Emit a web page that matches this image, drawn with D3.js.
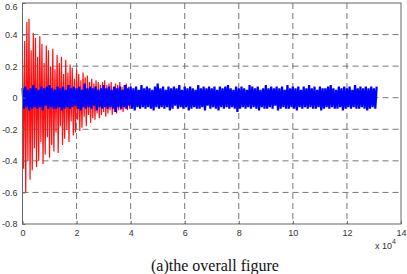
<!DOCTYPE html>
<html><head><meta charset="utf-8">
<script src="https://cdn.jsdelivr.net/npm/d3@7"></script>
<style>body{margin:0;background:#fff}svg{display:block}</style>
</head><body><svg id="c" width="407" height="274"></svg>
<script>
// x ticks (units of 1e4 samples) and y ticks
const xTicks = [0,2,4,6,8,10,12,14];
const yTicks = [-0.8,-0.6,-0.4,-0.2,0,0.2,0.4,0.6];
const xTickLabels = ["0","2","4","6","8","10","12","14"];
const yTickLabels = ["-0.8","-0.6","-0.4","-0.2","0","0.2","0.4","0.6"];
// red signal, sampled every 0.04 (x1e4) from 0
const redStep = 0.04;
const redValues = [0.30,-0.45,0.36,-0.6,0.48,-0.40,0.50,-0.52,0.30,-0.46,
0.41,-0.32,0.38,-0.44,0.26,-0.40,0.39,-0.28,0.34,-0.42,
0.22,-0.36,0.33,-0.25,0.30,-0.38,0.20,-0.30,0.31,-0.34,
0.18,-0.22,0.27,-0.35,0.22,-0.18,0.26,-0.30,0.15,-0.26,
0.24,-0.20,0.16,-0.28,0.21,-0.15,0.19,-0.24,0.12,-0.22,
0.18,-0.14,0.15,-0.21,0.11,-0.19,0.16,-0.12,0.13,-0.18,
0.14,-0.11,0.10,-0.16,0.12,-0.13,0.09,-0.14,0.11,-0.10,
0.10,-0.13,0.08,-0.11,0.10,-0.09,0.11,-0.12,0.08,-0.10,
0.09,-0.08,0.10,-0.11,0.07,-0.09,0.09,-0.10,0.08,-0.08,
0.10,-0.08,0.07,-0.09,0.08,-0.07,0.09,-0.08,0.07,-0.07];
// blue signal, sampled every 0.05 (x1e4) from 0
const blueStep = 0.05;
const blueValues = [0.06,-0.07,0.07,-0.06,0.05,-0.08,0.06,-0.07,0.08,-0.06,
0.06,-0.07,0.05,-0.06,0.07,-0.08,0.06,-0.05,0.07,-0.07,
0.08,-0.06,0.06,-0.07,0.05,-0.07,0.07,-0.06,0.06,-0.08,
0.07,-0.07,0.05,-0.06,0.08,-0.07,0.06,-0.06,0.07,-0.05,
0.06,-0.07,0.07,-0.08,0.05,-0.06,0.09,-0.07,0.06,-0.06,
0.07,-0.07,0.06,-0.05,0.07,-0.08,0.05,-0.06,0.06,-0.07,
0.08,-0.06,0.06,-0.07,0.07,-0.06,0.05,-0.07,0.07,-0.09,
0.06,-0.06,0.07,-0.07,0.05,-0.06,0.08,-0.07,0.06,-0.05,
0.07,-0.07,0.06,-0.08,0.07,-0.06,0.05,-0.07,0.08,-0.06,
0.06,-0.07,0.07,-0.06,0.06,-0.07,0.05,-0.08,0.07,-0.06,
0.09,-0.07,0.06,-0.06,0.07,-0.07,0.05,-0.06,0.07,-0.08,
0.06,-0.07,0.07,-0.05,0.06,-0.07,0.08,-0.06,0.05,-0.07,
0.07,-0.06,0.06,-0.08,0.07,-0.07,0.06,-0.06,0.05,-0.07,
0.08,-0.07,0.06,-0.06,0.07,-0.08,0.06,-0.05,0.07,-0.07,
0.06,-0.06,0.07,-0.07,0.05,-0.08,0.07,-0.06,0.06,-0.07,
0.07,-0.06,0.08,-0.07,0.06,-0.06,0.05,-0.07,0.07,-0.09,
0.06,-0.07,0.07,-0.06,0.06,-0.07,0.05,-0.06,0.08,-0.07,
0.07,-0.06,0.06,-0.07,0.07,-0.08,0.05,-0.06,0.06,-0.07,
0.08,-0.07,0.06,-0.06,0.07,-0.07,0.06,-0.05,0.07,-0.08,
0.06,-0.07,0.07,-0.06,0.05,-0.07,0.08,-0.07,0.06,-0.06,
0.07,-0.07,0.06,-0.08,0.07,-0.06,0.05,-0.07,0.07,-0.06,
0.06,-0.07,0.08,-0.06,0.06,-0.07,0.07,-0.07,0.05,-0.06,
0.07,-0.08,0.06,-0.07,0.06,-0.06,0.07,-0.07,0.08,-0.06,
0.06,-0.07,0.05,-0.07,0.07,-0.06,0.06,-0.08,0.07,-0.07,
0.06,-0.06,0.07,-0.07,0.05,-0.06,0.08,-0.07,0.06,-0.07,
0.07,-0.06,0.06,-0.07,0.07,-0.08,0.06,-0.07,0.07,-0.06,
0.06,-0.07,0.07];
const caption = "(a)the overall figure";

const svg = d3.select("#c");
const L = 22.5, R = 401, T = 3, B = 224;
const x = d3.scaleLinear().domain([0,14]).range([L,R]);
const y = d3.scaleLinear().domain([-0.8,0.6]).range([B,T]);

// grid
const g = svg.append("g");
g.selectAll("line.gx").data(xTicks.filter(d=>d>0&&d<14)).join("line")
 .attr("x1",d=>x(d)).attr("x2",d=>x(d)).attr("y1",T).attr("y2",B)
 .attr("stroke","#555").attr("stroke-width",0.8).attr("stroke-dasharray","6,4");
g.selectAll("line.gy").data(yTicks.filter(d=>d>-0.8&&d<0.6)).join("line")
 .attr("y1",d=>y(d)).attr("y2",d=>y(d)).attr("x1",L).attr("x2",R)
 .attr("stroke","#555").attr("stroke-width",0.8).attr("stroke-dasharray","6,4");

// signals
const line = d3.line().x(d=>x(d[0])).y(d=>y(d[1]));
svg.append("path").datum(redValues.map((v,i)=>[i*redStep,v]))
 .attr("d",line).attr("fill","none").attr("stroke","#ff1010").attr("stroke-width",1.2)
 .attr("stroke-linejoin","miter").attr("stroke-miterlimit",2);
svg.append("path").datum(blueValues.map((v,i)=>[i*blueStep,v]))
 .attr("d",line).attr("fill","none").attr("stroke","#0000ff").attr("stroke-width",2.2)
 .attr("stroke-linejoin","miter").attr("stroke-miterlimit",2);

// box
svg.append("rect").attr("x",L).attr("y",T).attr("width",R-L).attr("height",B-T)
 .attr("fill","none").attr("stroke","#666").attr("stroke-width",1);

// axes
const ax = svg.append("g").attr("transform",`translate(0,${B})`)
 .call(d3.axisBottom(x).tickValues(xTicks).tickFormat((d,i)=>xTickLabels[i]).tickSizeInner(-3).tickSizeOuter(0).tickPadding(6));
const ay = svg.append("g").attr("transform",`translate(${L},0)`)
 .call(d3.axisLeft(y).tickValues(yTicks).tickFormat((d,i)=>yTickLabels[i]).tickSizeInner(-3).tickSizeOuter(0).tickPadding(5));
[ax,ay].forEach(a=>{
  a.select(".domain").remove();
  a.selectAll(".tick line").attr("stroke","#666");
  a.selectAll("text").attr("font-family","Liberation Sans, Arial, sans-serif").attr("font-size",9).attr("fill","#333");
});
ay.selectAll(".tick text").filter(d=>d===0.6).attr("dy","0.7em");

// exponent
const ex = svg.append("text").attr("x",375).attr("y",249)
 .attr("font-family","Liberation Sans, Arial, sans-serif").attr("font-size",9).attr("fill","#333");
ex.append("tspan").text("x 10");
ex.append("tspan").attr("dy",-5).attr("font-size",7).text("4");

svg.append("text").attr("x",215).attr("y",271).attr("text-anchor","middle")
 .attr("font-family","Liberation Serif, Times New Roman, serif").attr("font-size",16).attr("fill","#111")
 .text(caption);
</script></body></html>
